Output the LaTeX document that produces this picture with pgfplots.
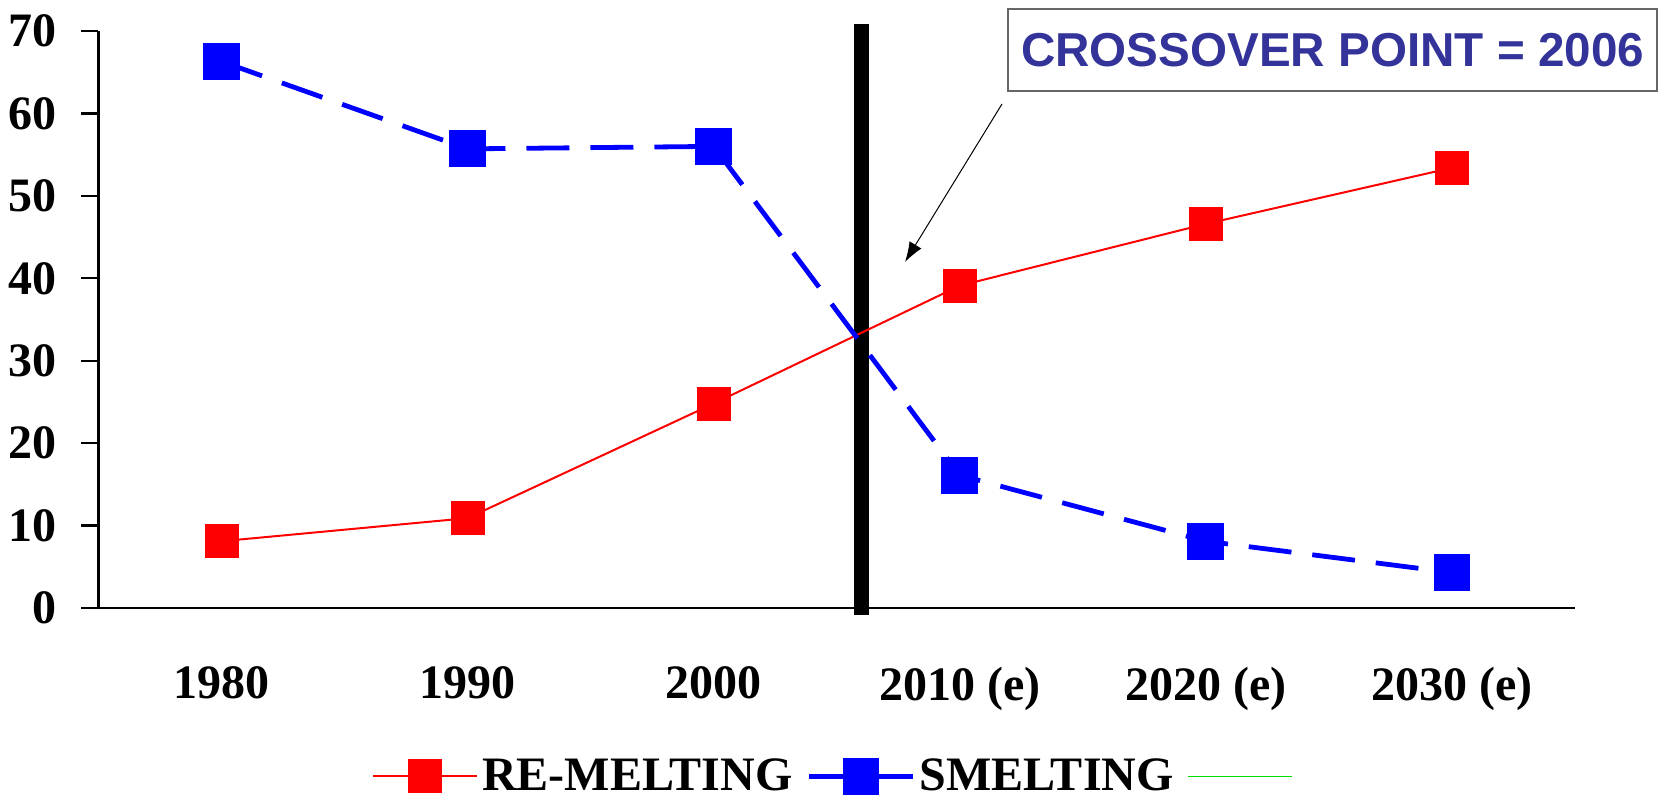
\documentclass[border=0pt]{standalone}
\usepackage{pgfplots}
\pgfplotsset{compat=1.18}
\usepackage{fontspec}
\setmainfont{Liberation Serif}
\newfontfamily\arialfont{Liberation Sans}
\usetikzlibrary{arrows.meta}
\definecolor{calloutblue}{RGB}{51,51,153}
\definecolor{legendgreen}{RGB}{0,220,0}

\begin{document}
\begin{tikzpicture}
% fixed page frame around the axis box
\path[use as bounding box] (-49.25pt,-96.5pt) rectangle (789.75pt,304pt);
\begin{axis}[
  at={(0pt,0pt)}, anchor=south west,
  scale only axis,
  width=738.25pt, height=288.5pt,
  xmin=-0.5, xmax=5.5,
  ymin=0, ymax=70,
  axis x line*=bottom, axis y line*=left,
  axis line style={line width=1.2pt, black},
  xtick={0,1,2,3,4,5},
  xticklabels={1980,1990,2000,2010 (e),2020 (e),2030 (e)},
  major x tick style={draw=none},
  ytick={0,10,...,70},
  tick align=outside,
  major tick length=8.5pt,
  major y tick style={line width=1.2pt, black},
  /pgf/number format/assume math mode=true,
  tick label style={font=\fontsize{24}{28}\selectfont\bfseries},
  xticklabel style={yshift=-17.5pt},
  yticklabel style={xshift=-9pt},
  clip=false,
  legend style={
    at={(0.5,-0.292)}, anchor=center,
    draw=none, fill=none,
    font=\fontsize{24}{28}\selectfont\bfseries,
    legend columns=3,
    /tikz/every odd column/.append style={column sep=0pt},
    /tikz/every even column/.append style={column sep=5pt},
  },
  legend image code/.code={%
    \draw[mark repeat=2,mark phase=2] plot coordinates {(0pt,0pt) (26pt,0pt) (52pt,0pt)};},
]
% crossover year marker
\addplot[black, line width=7.8pt, forget plot] coordinates {(2.6,-0.9) (2.6,70.9)};

\addplot[red, line width=1pt, mark=square*, mark size=8pt,
  mark options={solid, fill=red, draw=red}]
  coordinates {(0,8.1) (1,10.9) (2,24.8) (3,39.1) (4,46.6) (5,53.4)};
\addlegendentry{RE-MELTING}

\addplot[blue, line width=2.4pt, dash pattern=on 21.5pt off 10.5pt, mark=square*, mark size=8pt,
  mark options={solid, fill=blue, draw=blue}]
  coordinates {(0,66.3) (1,55.7) (2,56.0) (3,16.1) (4,8.1) (5,4.3)};
\addlegendentry{SMELTING}

\addlegendimage{legendgreen, line width=0.8pt}
\addlegendentry{}
\end{axis}

% callout
\node[draw=gray!80!black, line width=0.7pt, fill=white, minimum width=324.5pt, minimum height=41pt,
  inner sep=0pt, text=calloutblue, font=\arialfont\fontsize{23.8}{28}\selectfont\bfseries]
  at (617pt,279pt) {CROSSOVER POINT = 2006};
\draw[black, line width=0.5pt, -{Latex[length=10pt,width=7pt]}] (451.75pt,252pt) -- (403.25pt,173pt);
\end{tikzpicture}
\end{document}
